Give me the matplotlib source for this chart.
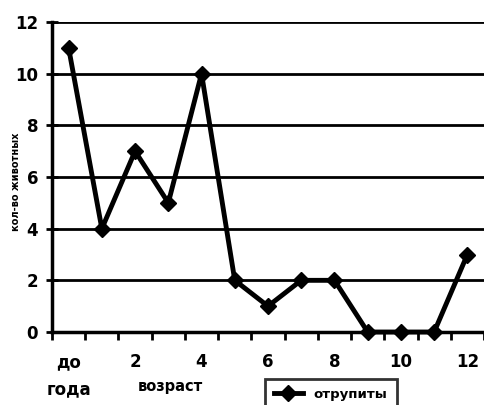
import numpy as np
import matplotlib.pyplot as plt

categories = ["до года", "1", "2", "3", "4", "5", "6", "7", "8", "9", "10", "11", "12"]
values = [11, 4, 7, 5, 10, 2, 1, 2, 2, 0, 0, 0, 3]
shown_labels = ["до\nгода", "", "2", "", "4", "", "6", "", "8", "", "10", "", "12"]

fig = plt.figure(figsize=(4.84, 4.05), dpi=100)
ax = fig.add_axes([52 / 484, 1 - 332 / 405, 432 / 484, 310 / 405])

x = np.arange(len(categories))
ax.plot(x, values, color="black", linewidth=3.5, marker="D", markersize=8,
        label="отрупиты", zorder=3, clip_on=False)

ax.set_xlim(-0.5, len(categories) - 0.5)
ax.set_ylim(0, 12)
ax.set_yticks(np.arange(0, 13, 2))
ax.yaxis.grid(True, color="black", linewidth=2)
ax.set_axisbelow(True)

ax.set_xticks(x)
ax.set_xticklabels(shown_labels, fontsize=12, fontweight="bold", linespacing=1.7, va="top")
ax.tick_params(axis="x", length=0, pad=15)
ax.set_xticks(np.arange(-0.5, len(categories), 1), minor=True)
ax.tick_params(axis="x", which="minor", length=6, width=2, direction="out")
ax.tick_params(axis="y", length=8, width=2, direction="inout", labelsize=12, pad=6)
for lab in ax.get_yticklabels():
    lab.set_fontweight("bold")

for s in ["top", "right"]:
    ax.spines[s].set_visible(False)
ax.spines["left"].set_linewidth(2.5)
ax.spines["bottom"].set_linewidth(2.5)

fig.text(16 / 484, 1 - 182 / 405, "кол-во животных", fontsize=7, fontweight="bold",
         rotation=90, ha="center", va="center")
fig.text(170 / 484, 1 - 387 / 405, "возраст", fontsize=10.5, fontweight="bold",
         ha="center", va="center")

leg = ax.legend(loc="upper left", bbox_to_anchor=(258 / 484, 1 - 372 / 405),
                bbox_transform=fig.transFigure, frameon=True, fancybox=False,
                prop={"size": 9.5, "weight": "bold"}, handlelength=2.2,
                borderpad=0.7)
leg.get_frame().set_edgecolor("black")
leg.get_frame().set_linewidth(2)

fig.savefig("out.png", dpi=100)
